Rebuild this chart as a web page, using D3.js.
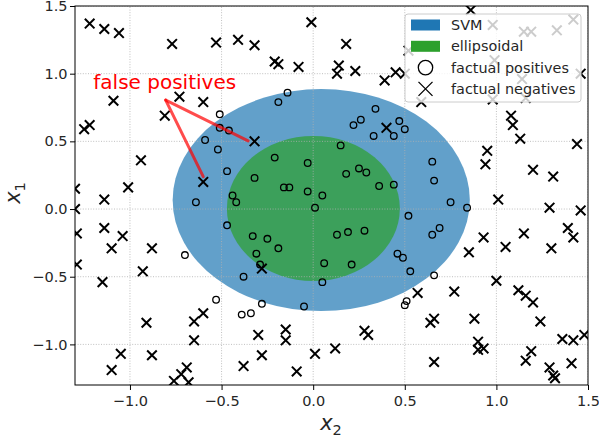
<!DOCTYPE html>
<html>
<head>
<meta charset="utf-8">
<script src="https://cdn.jsdelivr.net/npm/d3@7"></script>
<style>
  body { margin: 0; background: #fff; }
  svg { display: block; font-family: "DejaVu Sans", sans-serif; }
</style>
</head>
<body>
<svg id="chart"></svg>
<script>
// axis ticks
var xTicks = [-1.0, -0.5, 0.0, 0.5, 1.0, 1.5];
var yTicks = [-1.0, -0.5, 0.0, 0.5, 1.0, 1.5];

// regions: [centre x2, centre x1, half-width x2, half-width x1]
var svmRegion = [0.044, 0.066, 0.811, 0.82];
var ellipsoidRegion = [0.001, 0.004, 0.472, 0.536];

// factual positives, [x2, x1]
var positives = [
  [-0.14, 0.86], [-0.19, 0.79], [-0.51, 0.70], [-0.51, 0.60], [-0.46, 0.58],
  [-0.59, 0.51], [-0.52, 0.44], [-0.47, 0.28], [-0.21, 0.38], [-0.03, 0.34],
  [-0.32, 0.23], [-0.16, 0.16], [-0.13, 0.16], [-0.03, 0.13], [0.05, 0.10],
  [-0.44, 0.10], [-0.42, 0.05], [-0.64, 0.05], [0.34, 0.74], [0.22, 0.62],
  [0.26, 0.66], [0.47, 0.65], [0.50, 0.59], [0.33, 0.54], [0.44, 0.54],
  [0.15, 0.47], [0.65, 0.35], [0.66, 0.21], [0.25, 0.30], [0.29, 0.27],
  [0.18, 0.26], [0.36, 0.17], [0.44, 0.18], [0.75, 0.05], [0.84, 0.01],
  [0.01, 0.01], [0.52, -0.05], [0.69, -0.14], [0.65, -0.19], [0.28, -0.16],
  [0.19, -0.17], [0.13, -0.19], [0.46, -0.33], [0.49, -0.36], [0.53, -0.46],
  [0.66, -0.49], [0.21, -0.41], [0.06, -0.40], [0.51, -0.68], [0.50, -0.71],
  [-0.47, -0.12], [-0.33, -0.20], [-0.25, -0.22], [-0.19, -0.29], [-0.31, -0.33],
  [-0.29, -0.41], [0.05, -0.54], [-0.38, -0.50], [-0.53, -0.67], [-0.28, -0.70],
  [-0.39, -0.78], [-0.34, -0.77], [-0.05, -0.72], [-0.70, -0.34]
];

// factual negatives, [x2, x1]
var negatives = [
  [-1.22, 1.37], [-1.14, 1.33], [-1.06, 1.30], [-0.77, 1.22], [-0.53, 1.23],
  [-0.41, 1.25], [-0.32, 1.21], [-0.21, 1.09], [-0.19, 1.07], [-0.08, 1.05],
  [-0.01, 1.38], [0.18, 1.22], [0.14, 1.06], [0.13, 1.00], [0.23, 1.02],
  [0.39, 0.95], [0.45, 1.01], [0.50, 1.00], [0.52, 1.17], [0.59, 0.79],
  [0.40, 0.60], [0.86, 1.47], [0.98, 1.36], [1.15, 1.31], [1.19, 1.31],
  [1.33, 1.32], [1.42, 1.40], [0.99, 1.10], [1.14, 0.96], [1.16, 0.82],
  [0.98, 0.81], [1.46, 1.00], [1.08, 0.69], [1.09, 0.62], [1.13, 0.52],
  [1.44, 0.48], [0.95, 0.43], [0.94, 0.33], [1.20, 0.29], [1.31, 0.24],
  [1.01, 0.07], [1.29, 0.01], [1.46, -0.01], [-1.09, 0.80], [-0.73, 0.83],
  [-0.60, 0.79], [-0.81, 0.69], [-1.22, 0.62], [-1.25, 0.59], [-0.94, 0.36],
  [-1.01, 0.16], [-1.14, 0.07], [-1.30, 0.15], [-1.30, 0.00], [-0.32, 0.50],
  [-0.60, 0.20], [-1.29, -0.18], [-1.14, -0.14], [-1.04, -0.20], [-1.10, -0.29],
  [-0.88, -0.29], [-1.29, -0.41], [-1.15, -0.54], [-0.93, -0.46], [-0.91, -0.84],
  [-0.65, -0.83], [-0.60, -0.77], [-0.65, -0.97], [-1.05, -1.07], [-0.88, -1.08],
  [-1.10, -1.19], [-0.69, -1.17], [-0.72, -1.22], [-0.76, -1.27], [-0.68, -1.28],
  [-0.38, -1.16], [-0.30, -0.93], [-0.28, -1.08], [-0.15, -0.89], [-0.15, -0.97],
  [-0.09, -1.20], [0.01, -1.07], [-0.28, -0.44], [0.12, -1.03], [0.28, -0.90],
  [0.30, -0.93], [0.57, -0.62], [0.77, -0.61], [0.66, -0.81], [0.64, -0.84],
  [0.66, -1.13], [0.85, -0.32], [0.93, -0.21], [1.15, -0.18], [1.05, -0.28],
  [1.30, -0.29], [1.39, -0.14], [1.42, -0.21], [1.00, -0.53], [1.12, -0.60],
  [1.16, -0.64], [1.20, -0.69], [1.24, -0.83], [0.88, -0.81], [1.36, -0.96],
  [1.42, -0.97], [1.48, -0.93], [0.90, -0.98], [0.90, -1.04], [0.93, -1.03],
  [1.19, -1.05], [1.16, -1.12], [1.41, -1.14], [1.29, -1.17], [1.31, -1.23],
  [1.32, -1.25]
];

// annotation
var annoText = "false positives";
var annoTextPos = [-1.2, 0.89];
var annoFrom = [-0.805, 0.805];
var annoTargets = [[-0.355, 0.503], [-0.60, 0.239]];

var legendLabels = ["SVM", "ellipsoidal", "factual positives", "factual negatives"];

var width = 599,
  height = 438,
  margin = { top: 6, right: 11, bottom: 53, left: 75 };

var svg = d3.select("#chart").attr("width", width).attr("height", height);

var x = d3.scaleLinear().domain([-1.3, 1.5]).range([margin.left, width - margin.right]);
var y = d3.scaleLinear().domain([-1.3, 1.5]).range([height - margin.bottom, margin.top]);

var fmt = d3.format(".1f");

svg.append("defs")
  .append("clipPath")
  .attr("id", "plot-clip")
  .append("rect")
  .attr("x", x.range()[0])
  .attr("y", y.range()[1])
  .attr("width", x.range()[1] - x.range()[0])
  .attr("height", y.range()[0] - y.range()[1]);

var plot = svg.append("g").attr("clip-path", "url(#plot-clip)");

// regions
function drawRegion(r, color) {
  plot.append("ellipse")
    .attr("cx", x(r[0]))
    .attr("cy", y(r[1]))
    .attr("rx", x(r[0] + r[2]) - x(r[0]))
    .attr("ry", y(r[1]) - y(r[1] + r[3]))
    .attr("fill", color)
    .attr("fill-opacity", 0.7);
}
drawRegion(svmRegion, "#1f77b4");
drawRegion(ellipsoidRegion, "#2ca02c");

// grid
plot.append("g")
  .selectAll("line")
  .data(xTicks)
  .enter()
  .append("line")
  .attr("x1", function(d) { return x(d); })
  .attr("x2", function(d) { return x(d); })
  .attr("y1", y.range()[0])
  .attr("y2", y.range()[1])
  .attr("stroke", "#b0b0b0")
  .attr("stroke-width", 0.8)
  .attr("stroke-dasharray", "1,1.6");

plot.append("g")
  .selectAll("line")
  .data(yTicks)
  .enter()
  .append("line")
  .attr("y1", function(d) { return y(d); })
  .attr("y2", function(d) { return y(d); })
  .attr("x1", x.range()[0])
  .attr("x2", x.range()[1])
  .attr("stroke", "#b0b0b0")
  .attr("stroke-width", 0.8)
  .attr("stroke-dasharray", "1,1.6");

// points
plot.append("g")
  .selectAll("circle")
  .data(positives)
  .enter()
  .append("circle")
  .attr("cx", function(d) { return x(d[0]); })
  .attr("cy", function(d) { return y(d[1]); })
  .attr("r", 3.3)
  .attr("fill", "none")
  .attr("stroke", "#000")
  .attr("stroke-width", 1.3);

function crossPath(cx, cy, s) {
  return "M" + (cx - s) + "," + (cy - s) + "L" + (cx + s) + "," + (cy + s) +
    "M" + (cx - s) + "," + (cy + s) + "L" + (cx + s) + "," + (cy - s);
}

plot.append("g")
  .selectAll("path")
  .data(negatives)
  .enter()
  .append("path")
  .attr("d", function(d) { return crossPath(x(d[0]), y(d[1]), 4.8); })
  .attr("fill", "none")
  .attr("stroke", "#000")
  .attr("stroke-width", 2);

// annotation
plot.append("g")
  .selectAll("line")
  .data(annoTargets)
  .enter()
  .append("line")
  .attr("x1", x(annoFrom[0]))
  .attr("y1", y(annoFrom[1]))
  .attr("x2", function(d) { return x(d[0]); })
  .attr("y2", function(d) { return y(d[1]); })
  .attr("stroke", "#ff0000")
  .attr("stroke-opacity", 0.7)
  .attr("stroke-width", 3)
  .attr("stroke-linecap", "round");

svg.append("text")
  .attr("x", x(annoTextPos[0]))
  .attr("y", y(annoTextPos[1]))
  .attr("fill", "#ff0000")
  .attr("font-size", "20px")
  .text(annoText);

// axes
var xAxis = svg.append("g")
  .attr("transform", "translate(0," + y.range()[0] + ")")
  .call(d3.axisBottom(x).tickValues(xTicks).tickFormat(fmt).tickSize(5).tickPadding(5.5).tickSizeOuter(0));

var yAxis = svg.append("g")
  .attr("transform", "translate(" + x.range()[0] + ",0)")
  .call(d3.axisLeft(y).tickValues(yTicks).tickFormat(fmt).tickSize(5).tickPadding(2.5).tickSizeOuter(0));

[xAxis, yAxis].forEach(function(a) {
  a.select(".domain").remove();
  a.selectAll("text").attr("font-size", "14.5px").attr("font-family", "DejaVu Sans").attr("fill", "#262626");
  a.selectAll(".tick line").attr("stroke", "#000").attr("stroke-width", 1);
});

// spines
svg.append("rect")
  .attr("x", x.range()[0])
  .attr("y", y.range()[1])
  .attr("width", x.range()[1] - x.range()[0])
  .attr("height", y.range()[0] - y.range()[1])
  .attr("fill", "none")
  .attr("stroke", "#000")
  .attr("stroke-width", 1);

// axis labels
var xl = svg.append("text")
  .attr("x", 331)
  .attr("y", 430)
  .attr("text-anchor", "middle")
  .attr("font-size", "21px")
  .attr("fill", "#262626");
xl.append("tspan").attr("font-style", "italic").text("x");
xl.append("tspan").attr("font-size", "14.5px").attr("dy", "5").text("2");

var yl = svg.append("text")
  .attr("transform", "translate(20,193) rotate(-90)")
  .attr("text-anchor", "middle")
  .attr("font-size", "21px")
  .attr("fill", "#262626");
yl.append("tspan").attr("font-style", "italic").text("x");
yl.append("tspan").attr("font-size", "14.5px").attr("dy", "5").text("1");

// legend
var legend = svg.append("g").attr("transform", "translate(405,14)");

legend.append("rect")
  .attr("width", 176)
  .attr("height", 88)
  .attr("rx", 3)
  .attr("fill", "#fff")
  .attr("fill-opacity", 0.8)
  .attr("stroke", "#cccccc")
  .attr("stroke-width", 1);

var rows = legend.selectAll(".row")
  .data(legendLabels)
  .enter()
  .append("g")
  .attr("class", "row")
  .attr("transform", function(d, i) { return "translate(0," + (11 + i * 21.3) + ")"; });

rows.filter(function(d, i) { return i < 2; })
  .append("rect")
  .attr("x", 6)
  .attr("y", -5.5)
  .attr("width", 29)
  .attr("height", 11)
  .attr("fill", function(d, i) { return i === 0 ? "#1f77b4" : "#2ca02c"; });

rows.filter(function(d, i) { return i === 2; })
  .append("circle")
  .attr("cx", 20.5)
  .attr("cy", 0)
  .attr("r", 7.2)
  .attr("fill", "none")
  .attr("stroke", "#000")
  .attr("stroke-width", 1.3);

rows.filter(function(d, i) { return i === 3; })
  .append("path")
  .attr("d", crossPath(20.5, 0, 7))
  .attr("stroke", "#000")
  .attr("stroke-width", 1.3);

rows.append("text")
  .attr("x", 46)
  .attr("dy", "0.36em")
  .attr("font-size", "14.4px")
  .attr("fill", "#262626")
  .text(function(d) { return d; });
</script>
</body>
</html>
